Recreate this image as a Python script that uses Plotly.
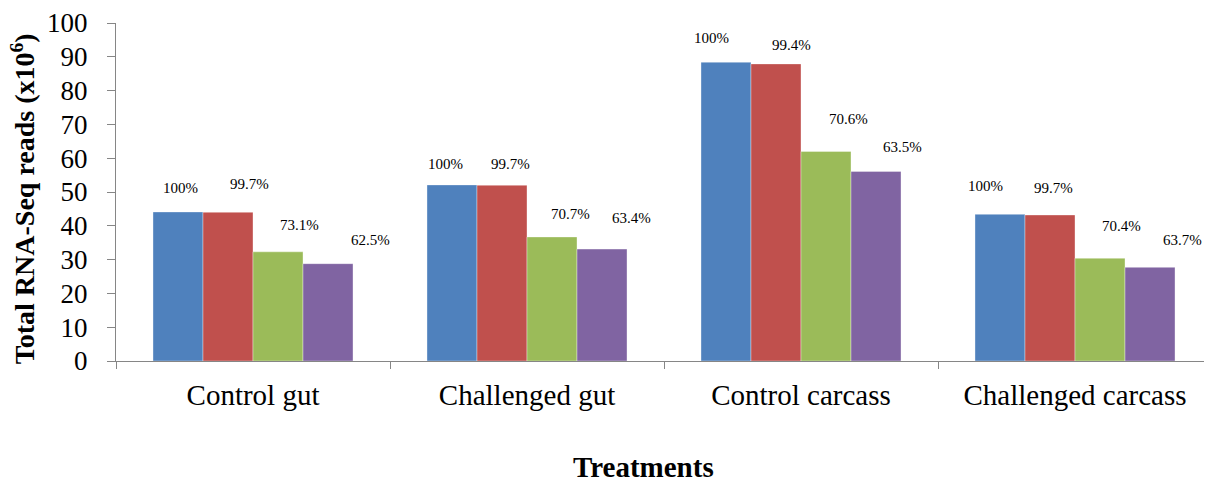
import plotly.graph_objects as go

categories = ["Control gut", "Challenged gut", "Control carcass", "Challenged carcass"]
series_names = ["Total reads", "Clean reads", "Mapped reads", "Uniquely mapped reads"]
reads_s1 = [44.1, 52.1, 88.4, 43.4]
reads_s2 = [44.0, 52.0, 87.9, 43.2]
reads_s3 = [32.3, 36.7, 62.0, 30.4]
reads_s4 = [28.8, 33.1, 56.1, 27.7]
pct_labels = [
    ["100%", "99.7%", "73.1%", "62.5%"],
    ["100%", "99.7%", "70.7%", "63.4%"],
    ["100%", "99.4%", "70.6%", "63.5%"],
    ["100%", "99.7%", "70.4%", "63.7%"],
]
y_ticks = list(range(0, 101, 10))

# label placement (layout only): offset from category centre (category units), height (y units)
label_dx = [
    [-0.266, -0.011, 0.168, 0.427],
    [-0.299, -0.062, 0.159, 0.383],
    [-0.328, -0.033, 0.175, 0.369],
    [-0.325, -0.077, 0.168, 0.394],
]
label_y = [
    [51.3, 52.5, 40.2, 35.8],
    [58.4, 58.4, 43.5, 42.2],
    [95.6, 93.5, 71.6, 63.3],
    [51.9, 51.3, 39.9, 35.8],
]

colors = ["#4F81BD", "#C0504D", "#9BBB59", "#8064A2"]
serif = "Liberation Serif"
axis_col = "#868686"

fig = go.Figure()
for name, vals, col in zip(series_names, [reads_s1, reads_s2, reads_s3, reads_s4], colors):
    fig.add_trace(go.Bar(
        x=categories, y=vals, name=name,
        marker=dict(color=col, line=dict(color="rgba(255,255,255,0.6)", width=0.6)),
        showlegend=False,
    ))

for ci in range(len(categories)):
    for si in range(4):
        fig.add_annotation(
            x=ci + label_dx[ci][si], y=label_y[ci][si], xref="x", yref="y",
            text=pct_labels[ci][si], showarrow=False,
            font=dict(family=serif, size=15, color="#000"),
            xanchor="center", yanchor="middle",
        )

fig.add_annotation(
    x=-0.0849, y=0.481, xref="paper", yref="paper",
    text="<b>Total RNA-Seq reads (x10<sup>6</sup>)</b>", textangle=-90, showarrow=False,
    font=dict(family=serif, size=28, color="#000"), xanchor="center", yanchor="middle",
)
fig.add_annotation(
    x=0.481, y=-0.314, xref="paper", yref="paper",
    text="<b>Treatments</b>", showarrow=False,
    font=dict(family=serif, size=29, color="#000"), xanchor="center", yanchor="middle",
)

fig.update_layout(
    width=1204, height=475,
    margin=dict(l=108, r=0, t=12, b=122),
    paper_bgcolor="white", plot_bgcolor="white",
    barmode="group", bargap=0.27, bargroupgap=0,
    font=dict(family=serif, color="#000"),
)
fig.update_xaxes(
    type="category", tickson="boundaries", ticks="outside", ticklen=7,
    tickcolor=axis_col, showline=True, linecolor=axis_col, linewidth=1,
    tickfont=dict(family=serif, size=29, color="#000"), ticklabelstandoff=8,
    showgrid=False,
)
fig.update_yaxes(
    range=[0, 100], tickvals=y_ticks, ticks="outside", ticklen=8,
    tickcolor=axis_col, showline=True, linecolor=axis_col, linewidth=1,
    tickfont=dict(family=serif, size=27, color="#000"), ticklabelstandoff=14,
    ticklabeloverflow="allow",
    showgrid=False, zeroline=False,
)

fig.write_html("out.html")
